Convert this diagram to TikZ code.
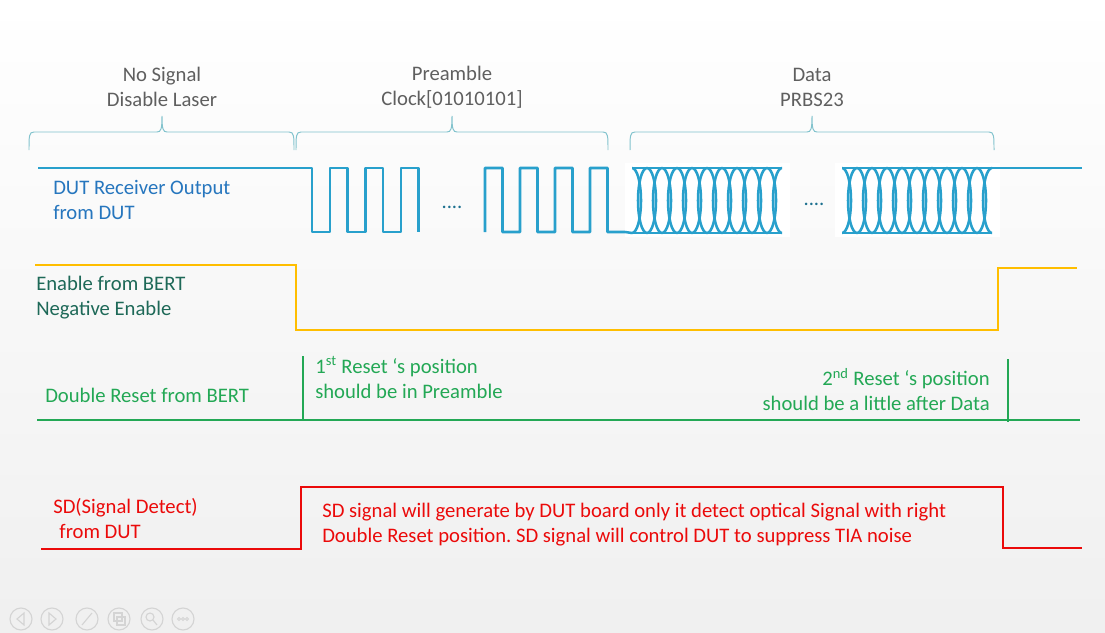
\documentclass[tikz,border=0pt]{standalone}
\usepackage{fontspec}
\setmainfont{Carlito}
\usepackage{tikz}
\usetikzlibrary{calc}
\frenchspacing
\definecolor{wave}{RGB}{40,160,204}
\definecolor{dutblue}{RGB}{38,118,190}
\definecolor{bracec}{RGB}{130,195,205}
\definecolor{topgray}{RGB}{95,95,95}
\definecolor{enab}{RGB}{255,190,0}
\definecolor{enabtxt}{RGB}{30,105,88}
\definecolor{resetg}{RGB}{35,168,85}
\definecolor{sdred}{RGB}{235,10,10}
\definecolor{navc}{RGB}{212,212,212}
\tikzset{
	wavel/.style={wave,line width=1.8pt,line join=round},
	lbl/.style={font=\fontsize{14.7}{17.8}\selectfont,inner sep=0pt,align=left},
}
\newcommand{\drawbrace}[5]{
	\draw[bracec,line width=0.7pt] (#1,150) .. controls (#1,136) and (#1,132) .. ({#1+5},132) -- ({#2-5},132) .. controls ({#2-1},132) and (#2,129) .. (#2,116) .. controls (#2,129) and ({#2+1},132) .. ({#2+5},132) -- ({#3-5},132) .. controls (#3,132) and (#3,136) .. (#3,150);
	\draw (#2,87) node (#4) [lbl,align=center,text=topgray] {#5};
}
\newcommand{\draweyes}[2]{
	\fill[white] ({#1-7},163) rectangle ({#2+8},237);
	\begin{scope}
		\clip (#1,165) rectangle (#2,236);
		\foreach \k in {0,...,10}
			\draw[wavel] ({#1+15*\k},200.5) ellipse [x radius=9, y radius=32.5];
	\end{scope}
	\draw[wavel] (#1,168) -- (#2,168) (#1,233) -- (#2,233);
}

\begin{document}
\begin{tikzpicture}[x=0.025cm,y=-0.025cm]
\useasboundingbox (0,0) rectangle (1105,632);
\shade[top color=white,bottom color=black!6] (0,0) rectangle (1105,632);
\drawbrace{29}{162}{294}{nosig}{No Signal\\Disable Laser}
\drawbrace{296}{452}{608}{pream}{Preamble\\Clock[01010101]}
\drawbrace{630}{812}{994}{data}{Data\\PRBS23}
\draweyes{632}{782}
\draweyes{842}{992}
\draw[wavel] (38,168) -- (312,168) \foreach \k in {0,1,2} { -- ({312+35.5*\k},232) -- ({330+35.5*\k},232) -- ({330+35.5*\k},168) -- ({347.5+35.5*\k},168) } -- (418.5,232);
\draw[wavel] (485,232) \foreach \k in {0,...,3} { -- ({485+35*\k},168) -- ({502.5+35*\k},168) -- ({502.5+35*\k},232) -- ({520+35*\k},232) } -- (632,233);
\draw[wavel] (992,168) -- (1082,168);
\draw (452,208) node (dots1) [lbl,anchor=base,text=wave!70!black] {....};
\draw (814,205) node (dots2) [lbl,anchor=base,text=wave!70!black] {....};
\draw (53,199.5) node (dut) [lbl,anchor=west,text=dutblue] {DUT Receiver Output\\from DUT};
\draw[enab,line width=1.8pt] (35,265) -- (296,265) -- (296,330) -- (998,330) -- (998,268) -- (1077,268);
\draw (36,297.5) node (en) [lbl,anchor=west,text=enabtxt] {Enable from BERT\\Negative Enable};
\draw[resetg,line width=1.8pt] (37,420) -- (1080,420);
\draw[resetg,line width=1.8pt] (303,356) -- (303,421);
\draw[resetg,line width=1.8pt] (1008,359) -- (1008,422);
\draw (45,395) node (rst) [lbl,anchor=west,text=resetg] {Double Reset from BERT};
\draw (315,377.5) node (rst1) [lbl,anchor=west,text=resetg] {1\textsuperscript{st} Reset ‘s position\\should be in Preamble};
\draw (990,389.5) node (rst2) [lbl,anchor=east,align=right,text=resetg] {2\textsuperscript{nd} Reset ‘s position\\should be a little after Data};
\draw[sdred,line width=1.8pt] (41,549) -- (301,549) -- (301,487) -- (1003,487) -- (1003,548) -- (1082,548);
\draw (53,518.5) node (sd) [lbl,anchor=west,text=sdred] {SD(Signal Detect)\\\hspace{0.3em}from DUT};
\draw (322,525) node (sdnote) [lbl,anchor=west,text=sdred] {SD signal will generate by DUT board only it detect optical Signal with right\\Double Reset position. SD signal will control DUT to suppress TIA noise};
\foreach \x [count=\i] in {21,52,87,119,152,183}
	\draw[navc,line width=0.8pt] (\x,619) circle [radius=11];
\draw[navc,line width=0.8pt] (24,613) -- (17,619) -- (24,625) -- cycle;
\draw[navc,line width=0.8pt] (49,613) -- (56,619) -- (49,625) -- cycle;
\draw[navc,line width=0.8pt] (82,625) -- (92,613);
\draw[navc,line width=0.8pt] (114,613) rectangle (122,621) (117,617) rectangle (125,625);
\draw[navc,line width=0.8pt] (150,617) circle [radius=4] (153,620) -- (157,625);
\foreach \x in {179,183,187}
	\draw[navc,line width=0.6pt] (\x,619) circle [radius=1.5];
\end{tikzpicture}
\end{document}
